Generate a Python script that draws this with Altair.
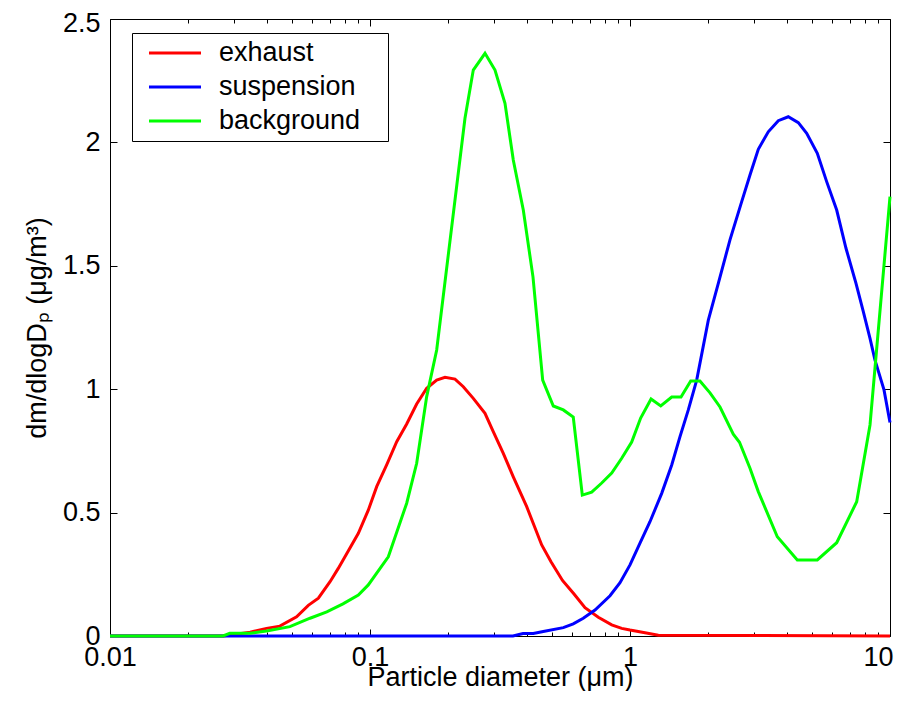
import altair as alt
import pandas as pd

FONT = "Liberation Sans"

series_names = ["exhaust", "suspension", "background"]
series_colors = ["#ff0000", "#0000ff", "#00ff00"]

exhaust_d = [0.01, 0.0272, 0.0346, 0.0400, 0.0450, 0.0522, 0.0579, 0.0633, 0.0702, 0.0755,
             0.0902, 0.0985, 0.1061, 0.1159, 0.1267, 0.1384, 0.1512, 0.1652, 0.1805, 0.1943,
             0.2123, 0.2285, 0.2496, 0.2769, 0.2979, 0.3256, 0.3557, 0.4006, 0.4575, 0.4968,
             0.5500, 0.6091, 0.6713, 0.7553, 0.8504, 0.9292, 1.0, 1.142, 1.285, 10.0]
exhaust_v = [0, 0, 0.015, 0.031, 0.040, 0.078, 0.124, 0.153, 0.220, 0.274,
             0.416, 0.510, 0.605, 0.693, 0.787, 0.859, 0.940, 1.004, 1.037, 1.048,
             1.041, 1.010, 0.963, 0.902, 0.828, 0.740, 0.645, 0.524, 0.369, 0.301,
             0.225, 0.170, 0.115, 0.076, 0.045, 0.031, 0.024, 0.013, 0.003, 0]

suspension_d = [0.01, 0.3548, 0.3877, 0.4246, 0.4639, 0.554, 0.605, 0.661, 0.7334, 0.8378,
                0.9153, 1.0, 1.0925, 1.1935, 1.324, 1.447, 1.557, 1.676, 1.805, 2.001,
                2.186, 2.424, 2.689, 2.894, 3.115, 3.403, 3.719, 4.062, 4.44, 4.782,
                5.253, 5.707, 6.237, 6.772, 7.4, 7.895, 8.377, 8.756, 9.483, 10.0]
suspension_v = [0, 0, 0.01, 0.01, 0.018, 0.034, 0.049, 0.072, 0.105, 0.163,
                0.216, 0.288, 0.376, 0.463, 0.578, 0.693, 0.808, 0.916, 1.037, 1.28,
                1.429, 1.605, 1.76, 1.868, 1.972, 2.043, 2.088, 2.104, 2.08, 2.037,
                1.956, 1.841, 1.726, 1.571, 1.429, 1.314, 1.206, 1.118, 0.997, 0.865]

background_d = [0.01, 0.0272, 0.0289, 0.0346, 0.0400, 0.0492, 0.0588, 0.0682, 0.0787, 0.0902,
                0.0985, 0.1176, 0.1384, 0.1512, 0.1652, 0.1805, 0.2319, 0.2496, 0.2769, 0.3025,
                0.3305, 0.3557, 0.3887, 0.4235, 0.4615, 0.507, 0.554, 0.605, 0.6555, 0.7123,
                0.7784, 0.8504, 0.9292, 1.015, 1.099, 1.205, 1.313, 1.447, 1.571, 1.712,
                1.858, 2.031, 2.219, 2.496, 2.637, 2.894, 3.115, 3.686, 4.40, 5.253,
                6.237, 7.446, 8.377, 10.0]
background_v = [0, 0, 0.011, 0.011, 0.02, 0.038, 0.072, 0.098, 0.13, 0.166,
                0.207, 0.321, 0.538, 0.70, 0.97, 1.159, 2.098, 2.293, 2.361, 2.293,
                2.158, 1.929, 1.726, 1.455, 1.037, 0.932, 0.916, 0.887, 0.571, 0.583,
                0.62, 0.66, 0.72, 0.786, 0.883, 0.96, 0.932, 0.968, 0.968, 1.033,
                1.033, 0.985, 0.928, 0.818, 0.785, 0.68, 0.585, 0.402, 0.308, 0.308,
                0.378, 0.544, 0.855, 1.78]

x_major = [0.01, 0.1, 1, 10]
x_minor = [0.02, 0.03, 0.04, 0.05, 0.06, 0.07, 0.08, 0.09,
           0.2, 0.3, 0.4, 0.5, 0.6, 0.7, 0.8, 0.9,
           2, 3, 4, 5, 6, 7, 8, 9]
y_ticks = [0, 0.5, 1, 1.5, 2, 2.5]

rows = []
for name, ds, vs in [("exhaust", exhaust_d, exhaust_v),
                     ("suspension", suspension_d, suspension_v),
                     ("background", background_d, background_v)]:
    for d, v in zip(ds, vs):
        rows.append({"series": name, "diameter": d, "value": v})
df = pd.DataFrame(rows)

xscale = alt.Scale(type="log", domain=[0.01, 10], nice=False)
yscale = alt.Scale(domain=[0, 2.5], nice=False, zero=False)

# trailing blank space keeps the legend box as wide as the reference's
PAD = "\u00a0\u00a0\u2009\u200b"
legend = alt.Legend(
    title=None, orient="none", legendX=22, legendY=14,
    symbolType="stroke", symbolStrokeWidth=3, symbolSize=2704,
    clipHeight=27, rowPadding=6, padding=6.5, symbolOffset=9, labelOffset=16.5,
    labelFontSize=27, labelFont=FONT, labelColor="black", labelLimit=400,
    strokeColor="black", fillColor="white", cornerRadius=0,
    labelExpr="datum.label + '" + PAD + "'",
)
color = alt.Color("series:N", scale=alt.Scale(domain=series_names, range=series_colors),
                  sort=series_names, legend=legend)

x_lab_axis = alt.Axis(orient="bottom", values=x_major, format="~g", ticks=False, tickSize=0,
                      domain=False, grid=False, labelPadding=8, labelFlush=False,
                      labelAlign=alt.condition("datum.value == 10", alt.value("right"), alt.value("center")),
                      labelOffset=alt.condition("datum.value == 10", alt.value(3), alt.value(0)),
                      title="Particle diameter (μm)", titleX=390, titleY=49,
                      titleAlign="center", titleBaseline="alphabetic")
y_lab_axis = alt.Axis(orient="left", values=y_ticks, format="~g", ticks=False, tickSize=0,
                      domain=False, grid=False, labelPadding=10, labelFlush=False,
                      labelOffset=alt.condition("datum.value == 2.5", alt.value(4), alt.value(0)),
                      title="dm/dlogDₚ (μg/m³)", titleX=-65, titleY=308.5, titleAngle=270,
                      titleAlign="center", titleBaseline="alphabetic")

layers = []
for i, name in enumerate(series_names):
    xa = x_lab_axis if i == 0 else None
    ya = y_lab_axis if i == 0 else None
    layers.append(
        alt.Chart(df).transform_filter(alt.datum.series == name)
        .mark_line(strokeWidth=3, clip=False)
        .encode(
            x=alt.X("diameter:Q", scale=xscale, axis=xa),
            y=alt.Y("value:Q", scale=yscale, axis=ya),
            color=color,
        )
    )


def tick_axis(orient, values, size):
    return alt.Axis(orient=orient, values=values, labels=False, domain=False, grid=False,
                    ticks=True, tickSize=size, offset=-size, tickColor="black",
                    tickWidth=1, title="")


def tick_layer(xaxis, yaxis):
    return alt.Chart(df).mark_point(opacity=0, size=1).encode(
        x=alt.X("diameter:Q", scale=xscale, axis=xaxis),
        y=alt.Y("value:Q", scale=yscale, axis=yaxis),
    )


layers.append(tick_layer(tick_axis("bottom", x_major, 7), tick_axis("left", y_ticks, 7)))
layers.append(tick_layer(tick_axis("top", x_major, 7), tick_axis("right", y_ticks, 7)))
layers.append(tick_layer(tick_axis("bottom", x_minor, 4), None))
layers.append(tick_layer(tick_axis("top", x_minor, 4), None))

chart = (
    alt.layer(*layers)
    .resolve_axis(x="independent", y="independent")
    .properties(
        width=780, height=617,
        autosize=alt.AutoSizeParams(type="none"),
        padding={"left": 102, "top": 11, "right": 4, "bottom": 55},
        background="white",
    )
    .configure_view(stroke="black", strokeWidth=1)
    .configure_axis(labelFont=FONT, titleFont=FONT, labelFontSize=27, titleFontSize=27,
                    labelColor="black", titleColor="black", titleFontWeight="normal")
)

chart.save("out.html", embed_options={"renderer": "svg", "actions": False})
